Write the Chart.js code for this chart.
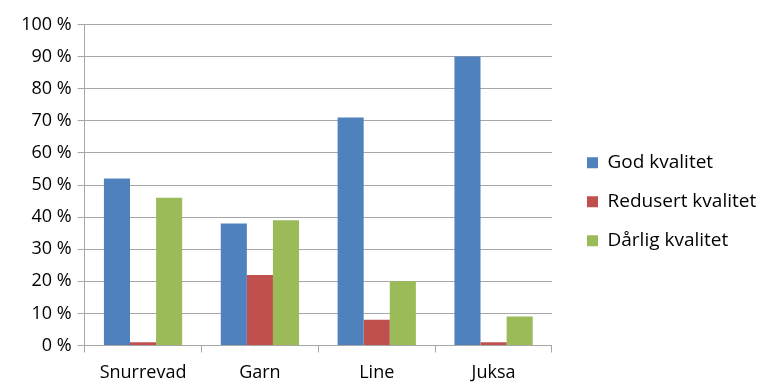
<!DOCTYPE html>
<html><head><meta charset="utf-8">
<script src="https://cdn.jsdelivr.net/npm/chart.js@4/dist/chart.umd.min.js"></script>
<style>html,body{margin:0;padding:0;background:#fff}#wrap{width:757px;height:383px}</style>
</head><body><div id="wrap"><canvas id="c" width="757" height="383"></canvas></div>
<script>
const categories = ["Snurrevad", "Garn", "Line", "Juksa"];
const godKvalitet = [52, 38, 71, 90];
const redusertKvalitet = [1, 22, 8, 1];
const darligKvalitet = [46, 39, 20, 9];
const yTicks = [0, 10, 20, 30, 40, 50, 60, 70, 80, 90, 100];

const axisFont = {family: "'Open Sans', sans-serif", size: 18};
const legendFont = {family: "'Open Sans', sans-serif", size: 19};
const legendShift = {
  id: 'legendShift',
  afterLayout(chart) {
    const l = chart.legend;
    l.left += 15; l.right += 15;
    l.top -= 7.5; l.bottom -= 7.5;
  }
};
new Chart(document.getElementById('c'), {
  type: 'bar',
  data: {
    labels: categories,
    datasets: [
      {label: 'God kvalitet', data: godKvalitet, backgroundColor: '#4F81BD'},
      {label: 'Redusert kvalitet', data: redusertKvalitet, backgroundColor: '#C0504D'},
      {label: 'Dårlig kvalitet', data: darligKvalitet, backgroundColor: '#9BBB59'}
    ]
  },
  plugins: [legendShift],
  options: {
    responsive: false,
    animation: false,
    devicePixelRatio: 1,
    layout: {padding: {top: 24.5, bottom: -11.1, left: 15.2, right: 5.8}},
    datasets: {bar: {categoryPercentage: 0.67, barPercentage: 1.0}},
    plugins: {
      tooltip: {enabled: false},
      legend: {
        position: 'right',
        maxWidth: 320,
        labels: {font: legendFont, color: '#000', boxWidth: 11, boxHeight: 11, padding: 20}
      }
    },
    scales: {
      x: {
        grid: {drawOnChartArea: false, drawTicks: true, tickLength: 7, color: '#A6A6A6', offset: true},
        border: {color: '#A6A6A6'},
        ticks: {font: axisFont, color: '#000', padding: 10, maxRotation: 0}
      },
      y: {
        min: 0, max: 100,
        afterBuildTicks: (s) => { s.ticks = yTicks.map(v => ({value: v})); },
        grid: {color: '#A6A6A6', tickLength: 7},
        border: {color: '#A6A6A6'},
        ticks: {font: axisFont, color: '#000', padding: 6, callback: (v) => v + ' %'}
      }
    }
  }
});
</script></body></html>
